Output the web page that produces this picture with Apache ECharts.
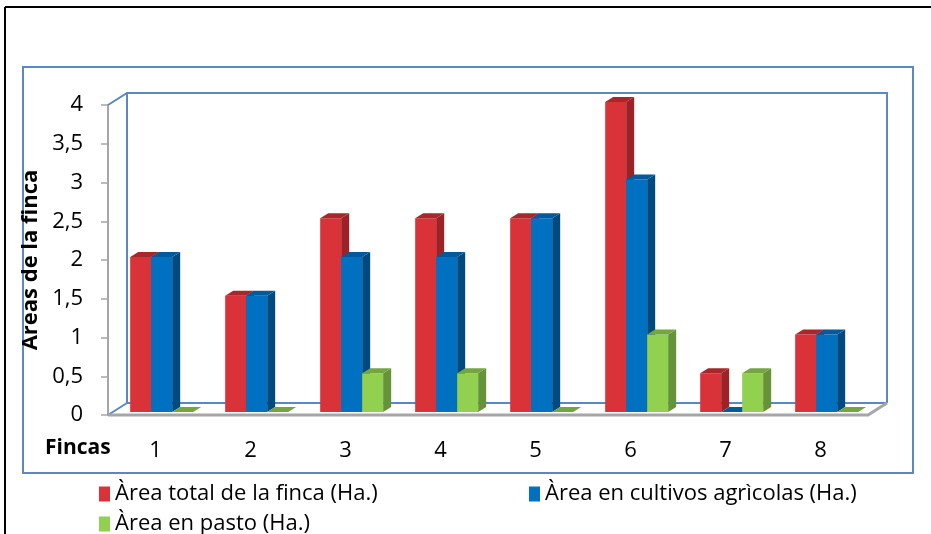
<!DOCTYPE html>
<html>
<head>
<meta charset="utf-8">
<script src="https://cdn.jsdelivr.net/npm/echarts@6/dist/echarts.min.js"></script>
<style>
  html, body { margin: 0; padding: 0; background: #fff; }
  #chart { width: 931px; height: 534px; }
</style>
</head>
<body>
<div id="chart"></div>
<script>
// datos
const fincas = ['1', '2', '3', '4', '5', '6', '7', '8']
const areaTotal = [2, 1.5, 2.5, 2.5, 2.5, 4, 0.5, 1]
const areaCultivos = [2, 1.5, 2, 2, 2.5, 3, 0, 1]
const areaPasto = [0, 0, 0.5, 0.5, 0, 1, 0.5, 0]
const serieNames = ['Àrea total de la finca (Ha.)', 'Àrea en cultivos agrìcolas (Ha.)', 'Àrea en pasto (Ha.)']

const FONT = '"Open Sans", Lato, sans-serif'
const BLUE_LINE = '#5b87c2'
const GREY_LINE = '#a6a6a6'

// colores de cada serie: frente, lado, tapa
const palette = [
  { front: '#d93238', side: '#9c2227', top: '#a9262b' },
  { front: '#0070c0', side: '#004a80', top: '#005a9c' },
  { front: '#92d050', side: '#66923a', top: '#74a63e' }
]

// profundidad de las barras y del fondo
const DX = 8, DY = 5, LIFT = 3
const WX = 19, WY = 12

const barRenderer = (slot) => (params, api) => {
  const idx = api.value(0)
  const val = api.value(1)
  const base = api.coord([idx, 0])
  const top = api.coord([idx, val])
  const band = api.size([1, 0])[0]
  const w = band * 0.221
  const x0 = base[0] - 1.5 * w + band * 0.065 + slot * w
  const x1 = x0 + w
  const yb = base[1] - LIFT
  const yt = top[1] - LIFT
  const c = palette[slot]
  return {
    type: 'group',
    children: [
      { type: 'rect', shape: { x: x0, y: yt, width: w, height: yb - yt }, style: { fill: c.front } },
      { type: 'polygon', shape: { points: [[x1, yt], [x1 + DX, yt - DY], [x1 + DX, yb - DY], [x1, yb]] }, style: { fill: c.side } },
      { type: 'polygon', shape: { points: [[x0, yt], [x0 + DX, yt - DY], [x1 + DX, yt - DY], [x1, yt]] }, style: { fill: c.top } }
    ]
  }
}

// pared del fondo y piso en perspectiva
const frameRenderer = (params, api) => {
  const band = api.size([1, 0])[0]
  const left = api.coord([0, 0])[0] - band / 2
  const right = api.coord([fincas.length - 1, 0])[0] + band / 2
  const y0 = api.coord([0, 0])[1]
  const y4 = api.coord([0, 4])[1]
  const blue = { stroke: BLUE_LINE, lineWidth: 2, fill: null }
  return {
    type: 'group',
    children: [
      { type: 'polyline', shape: { points: [[left, y4], [left + WX, y4 - WY], [right + WX, y4 - WY], [right + WX, y0 - WY]] }, style: blue },
      { type: 'polyline', shape: { points: [[left + WX, y4 - WY], [left + WX, y0 - WY], [right + WX, y0 - WY]] }, style: blue },
      { type: 'polyline', shape: { points: [[left, y0], [left + WX, y0 - WY]] }, style: blue },
      { type: 'polyline', shape: { points: [[left, y0], [right, y0], [right + WX, y0 - WY]] }, style: { stroke: GREY_LINE, lineWidth: 3, fill: null } }
    ]
  }
}

const chart = echarts.init(document.getElementById('chart'))

const toData = (arr) => arr.map((v, i) => [i, v])

const legendBase = {
  icon: 'rect',
  itemWidth: 11,
  itemHeight: 15,
  itemGap: 8,
  textStyle: { color: '#000', fontSize: 22, fontFamily: FONT }
}

const option = {
  animation: false,
  textStyle: { fontFamily: FONT },
  grid: { left: 108, right: 63, top: 105, bottom: 119 },
  xAxis: {
    type: 'category',
    data: fincas,
    axisLine: { show: false },
    axisTick: { show: false },
    axisLabel: { color: '#000', fontSize: 22, fontFamily: FONT, margin: 25 }
  },
  yAxis: {
    type: 'value',
    min: 0,
    max: 4,
    interval: 0.5,
    name: 'Areas de la finca',
    nameLocation: 'middle',
    nameRotate: 90,
    nameGap: 63,
    nameTextStyle: { color: '#000', fontSize: 22, fontWeight: 'bold', fontFamily: FONT },
    axisLine: { show: true, lineStyle: { color: GREY_LINE, width: 2 } },
    axisTick: { show: true, length: 7, lineStyle: { color: GREY_LINE, width: 1.5 } },
    splitLine: { show: false },
    axisLabel: {
      color: '#000',
      fontSize: 22,
      fontFamily: FONT,
      margin: 25,
      formatter: (v) => String(v).replace('.', ',')
    }
  },
  legend: [
    Object.assign({ data: [serieNames[0]], left: 94, top: 478 }, legendBase),
    Object.assign({ data: [serieNames[1]], left: 524, top: 478 }, legendBase),
    Object.assign({ data: [serieNames[2]], left: 94, top: 508 }, legendBase)
  ],
  graphic: [
    { type: 'line', shape: { x1: 5, y1: 7, x2: 931, y2: 7 }, style: { stroke: '#000', lineWidth: 2 } },
    { type: 'line', shape: { x1: 5, y1: 7, x2: 5, y2: 534 }, style: { stroke: '#000', lineWidth: 2 } },
    { type: 'rect', shape: { x: 23, y: 67, width: 890, height: 406 }, style: { stroke: BLUE_LINE, lineWidth: 2, fill: null } },
    { type: 'text', left: 45, top: 438, style: { text: 'Fincas', fill: '#000', font: 'bold 21px ' + FONT } }
  ],
  series: [
    { name: 'frame', type: 'custom', renderItem: frameRenderer, data: [[0, 0]], z: 1, silent: true },
    { name: serieNames[0], type: 'custom', renderItem: barRenderer(0), data: toData(areaTotal), itemStyle: { color: palette[0].front }, z: 2 },
    { name: serieNames[1], type: 'custom', renderItem: barRenderer(1), data: toData(areaCultivos), itemStyle: { color: palette[1].front }, z: 2 },
    { name: serieNames[2], type: 'custom', renderItem: barRenderer(2), data: toData(areaPasto), itemStyle: { color: palette[2].front }, z: 2 }
  ]
}

chart.setOption(option)
</script>
</body>
</html>
